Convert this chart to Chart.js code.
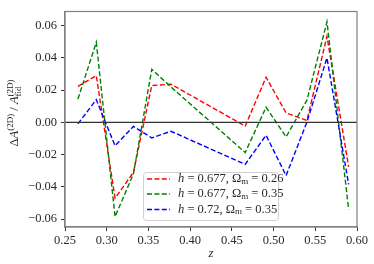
<!DOCTYPE html>
<html>
<head>
<meta charset="utf-8">
<script src="https://cdn.jsdelivr.net/npm/chart.js@4/dist/chart.umd.min.js"></script>
<style>
html,body{margin:0;padding:0;background:#fff;}
#wrap{width:374px;height:264px;position:relative;}
</style>
</head>
<body>
<div id="wrap"><canvas id="c" width="374" height="264"></canvas></div>
<script>
// ---- data ----
const zValues = [0.2655, 0.2875, 0.31, 0.332, 0.354, 0.377, 0.466, 0.491, 0.515, 0.54, 0.564, 0.59];
const redValues = [0.0223, 0.029, -0.047, -0.031, 0.0229, 0.0237, -0.0023, 0.028, 0.0059, 0.0012, 0.0534, -0.0276];
const greenValues = [0.0145, 0.0497, -0.0585, -0.032, 0.0329, 0.022, -0.0187, 0.0094, -0.009, 0.0138, 0.0624, -0.054];
const blueValues = [-0.0009, 0.0141, -0.0145, -0.0025, -0.0096, -0.0055, -0.026, -0.008, -0.033, 0.0002, 0.040, -0.0385];
const hLabels = ['0.677', '0.677', '0.72'];
const omLabels = ['0.26', '0.35', '0.35'];
const xTicks = [0.25, 0.30, 0.35, 0.40, 0.45, 0.50, 0.55, 0.60];
const yTicks = [-0.06, -0.04, -0.02, 0.00, 0.02, 0.04, 0.06];

const SERIF = "'Liberation Serif', 'DejaVu Serif', serif";
const colors = ['#ff0000', '#008000', '#0000ff'];
const series = [redValues, greenValues, blueValues];

function pts(vals){ return zValues.map((z,i)=>({x:z,y:vals[i]})); }

const datasets = series.map((vals,i)=>({
  label: 'h = ' + hLabels[i] + ', Ωm = ' + omLabels[i],
  data: pts(vals),
  borderColor: colors[i],
  backgroundColor: colors[i],
  borderWidth: 1.4,
  borderDash: [5, 2.4],
  pointRadius: 0,
  tension: 0,
  fill: false,
  order: 3 - i
}));

const framePlugin = {
  id: 'frame',
  afterDatasetsDraw(chart){
    const {ctx, chartArea:a, scales} = chart;
    // zero line
    const y0 = scales.y.getPixelForValue(0);
    ctx.save();
    ctx.strokeStyle = '#333333';
    ctx.lineWidth = 1.1;
    ctx.beginPath(); ctx.moveTo(a.left, y0); ctx.lineTo(a.right, y0); ctx.stroke();
    // frame
    ctx.strokeStyle = '#808080';
    ctx.lineWidth = 1.2;
    ctx.strokeRect(a.left, a.top, a.right - a.left, a.bottom - a.top);
    ctx.restore();

    // legend
    ctx.save();
    const bx = 143.5, by = 172.5, bw = 135, bh = 48, r = 3;
    ctx.fillStyle = 'rgba(255,255,255,0.85)';
    ctx.strokeStyle = '#d0d0d0';
    ctx.lineWidth = 1;
    ctx.beginPath();
    ctx.moveTo(bx + r, by);
    ctx.lineTo(bx + bw - r, by); ctx.arcTo(bx + bw, by, bx + bw, by + r, r);
    ctx.lineTo(bx + bw, by + bh - r); ctx.arcTo(bx + bw, by + bh, bx + bw - r, by + bh, r);
    ctx.lineTo(bx + r, by + bh); ctx.arcTo(bx, by + bh, bx, by + bh - r, r);
    ctx.lineTo(bx, by + r); ctx.arcTo(bx, by, bx + r, by, r);
    ctx.closePath(); ctx.fill(); ctx.stroke();
    const rowsY = [179, 194, 209.5];
    for (let i = 0; i < 3; i++) {
      const yy = rowsY[i];
      ctx.strokeStyle = colors[i];
      ctx.lineWidth = 1.4;
      ctx.setLineDash([5, 2.4]);
      ctx.beginPath(); ctx.moveTo(147, yy); ctx.lineTo(170, yy); ctx.stroke();
      ctx.setLineDash([]);
      ctx.fillStyle = '#2a2a2a';
      ctx.textBaseline = 'middle';
      let x = 178;
      const parts = [
        ['italic 12.5px ' + SERIF, 'h', 0],
        ['12.5px ' + SERIF, ' = ' + hLabels[i] + ', ', 0],
        ['12.5px ' + SERIF, 'Ω', 0],
        ['9px ' + SERIF, 'm', 2.5],
        ['12.5px ' + SERIF, ' = ' + omLabels[i], 0]
      ];
      for (const [f, t, dy] of parts) {
        ctx.font = f;
        ctx.fillText(t, x, yy + dy);
        x += ctx.measureText(t).width;
      }
    }
    ctx.restore();

    // y-axis label (rotated)
    ctx.save();
    ctx.translate(14, 113);
    ctx.rotate(-Math.PI/2);
    ctx.fillStyle = '#222';
    ctx.textBaseline = 'alphabetic';
    const base = 4;
    const parts = [
      ['12.5px ' + SERIF, 'Δ', 0],
      ['italic 12.5px ' + SERIF, 'A', 0],
      ['9px ' + SERIF, '(2D)', -5.5],
      ['12.5px ' + SERIF, ' / ', 0],
      ['italic 12.5px ' + SERIF, 'A', 0]
    ];
    let tw = 0;
    const widths = [];
    for (const [f,t] of parts) { ctx.font = f; const w = ctx.measureText(t).width; widths.push(w); tw += w; }
    ctx.font = '9px ' + SERIF; const supW = ctx.measureText('(2D)').width;
    tw += supW;
    let x = -tw/2;
    parts.forEach(([f,t,dy],k)=>{ ctx.font = f; ctx.fillText(t, x, base + dy); x += widths[k]; });
    ctx.font = '9px ' + SERIF;
    ctx.fillText('(2D)', x, base - 5.5);
    ctx.fillText('fid', x, base + 3);
    ctx.restore();
  }
};

new Chart(document.getElementById('c'), {
  type: 'line',
  data: { datasets },
  options: {
    responsive: false,
    animation: false,
    devicePixelRatio: 1,
    layout: { padding: { left: 0, right: 17, top: 9, bottom: 0 } },
    plugins: { legend: { display: false }, tooltip: { enabled: false } },
    scales: {
      x: {
        type: 'linear',
        min: 0.25, max: 0.60,
        afterBuildTicks(s){ s.ticks = xTicks.map(v=>({value:v})); },
        afterFit(s){ s.height = 37; },
        grid: { drawOnChartArea: false, drawTicks: true, tickLength: 4, tickColor: '#333' },
        border: { display: true, color: '#808080', width: 1.2 },
        ticks: { color: '#2a2a2a', font: { family: SERIF, size: 12.5 }, padding: 2, maxRotation: 0,
          callback: v => v.toFixed(2) },
        title: { display: true, text: 'z', color: '#2a2a2a', font: { family: SERIF, size: 13, style: 'italic' }, padding: { top: 0, bottom: 3 } }
      },
      y: {
        type: 'linear',
        min: -0.0649, max: 0.0688,
        afterBuildTicks(s){ s.ticks = yTicks.map(v=>({value:v})); },
        afterFit(s){ s.width = 65; },
        grid: { drawOnChartArea: false, drawTicks: true, tickLength: 4, tickColor: '#333' },
        border: { display: true, color: '#808080', width: 1.2 },
        ticks: { color: '#2a2a2a', font: { family: SERIF, size: 12.5 }, padding: 4,
          callback: v => (v < 0 ? '\u2212' : '') + Math.abs(v).toFixed(2) }
      }
    }
  },
  plugins: [framePlugin]
});
</script>
</body>
</html>
